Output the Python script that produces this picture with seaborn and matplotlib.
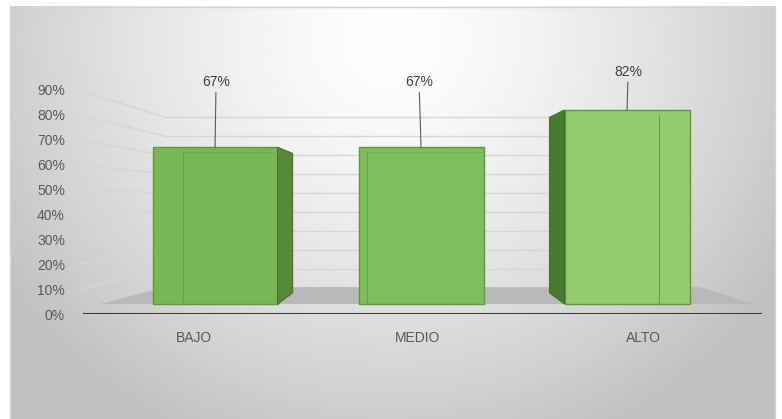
import numpy as np
import pandas as pd
import matplotlib
matplotlib.use("Agg")
import matplotlib.pyplot as plt
import matplotlib.transforms as mtransforms
from matplotlib.patches import Polygon, Rectangle
import seaborn as sns

# ---- data ----
categories = ["BAJO", "MEDIO", "ALTO"]
values = [0.67, 0.67, 0.82]
value_labels = ["67%", "67%", "82%"]
y_ticks = [0.0, 0.1, 0.2, 0.3, 0.4, 0.5, 0.6, 0.7, 0.8, 0.9]
y_tick_labels = ["0%", "10%", "20%", "30%", "40%", "50%", "60%", "70%", "80%", "90%"]

# ---- style ----
bar_colors = ["#79b756", "#80bd5c", "#91cc6d"]
side_colors = ["#568a36", "#568a36", "#497a2f"]
side_dir = [1, 0, -1]          # which depth face is visible
label_offsets = [65, 65, 38]   # px above bar top
label_dx = [1, -2, 1]
xtick_dx = [-21, -3, 16]       # perspective shift of category labels, px
floor = 0.04

sns.set_theme(style="white")
plt.rcParams["font.family"] = ["Liberation Sans", "DejaVu Sans"]

W, H = 782, 419
fig = plt.figure(figsize=(W / 100, H / 100), dpi=100)

# background gradient (Excel chart area)
bg = fig.add_axes([0, 0, 1, 1], zorder=-2)
xx, yy = np.meshgrid(np.arange(W), np.arange(H))
d = np.sqrt(((xx - 390) / 430) ** 2 + ((yy - 40) / 410) ** 2)
g = np.clip(1 - 0.22 * np.clip(d, 0, 1.3) ** 1.4, 0.76, 1)
g[(xx < 10) | (yy < 7) | (xx > 775)] = 1.0
bg.imshow(np.dstack([g, g, g]), extent=[0, W, H, 0], aspect="auto")
bg.add_patch(Rectangle((10, 7), 765, 420, fill=False, edgecolor="#d4d4d4", lw=1))
bg.set_xlim(0, W)
bg.set_ylim(H, 0)
bg.axis("off")

# main plot area
ax = fig.add_axes([83 / W, 105 / H, 679 / W, 224 / H])
ax.patch.set_alpha(0)

df = pd.DataFrame({"nivel": categories, "valor": values})
sns.barplot(data=df, x="nivel", y="valor", hue="nivel", palette=bar_colors,
            saturation=1, width=0.607, edgecolor="#5a9a37", linewidth=1,
            legend=False, ax=ax, zorder=3)
ax.set_xlim(-0.641, 2.655)
ax.set_ylim(0, 0.9)

# back wall gridlines with perspective
for t in y_ticks[1:]:
    back = 0.104 + 0.763 * t
    ax.plot([-0.66, -0.243], [t, back], color="#d6d6d6", lw=1, zorder=1, clip_on=False)
    ax.plot([-0.243, 2.354], [back, back], color="#d6d6d6", lw=1, zorder=1, clip_on=False)

# floor
ax.add_patch(Polygon([(-0.558, floor), (-0.243, 0.108), (2.354, 0.108), (2.621, floor)],
                     closed=True, facecolor="#b9b9b9", edgecolor="none", zorder=2))
ax.axhline(0, color="#3a3a3a", lw=2.2, zorder=5)

# 3D look on bars
for i, p in enumerate(ax.patches[:len(values)]):
    top = p.get_y() + p.get_height()
    p.set_y(floor)
    p.set_height(top - floor)
    x0 = p.get_x()
    w = p.get_width()
    x1 = x0 + w
    dx = 0.073
    if side_dir[i] == 1:
        pts = [(x1, top), (x1 + dx, top - 0.025), (x1 + dx, floor + 0.045), (x1, floor)]
        inner = x0 + 0.146
    elif side_dir[i] == -1:
        pts = [(x0, top), (x0 - dx, top - 0.03), (x0 - dx, floor + 0.045), (x0, floor)]
        inner = x1 - 0.15
    else:
        pts = None
        inner = x0 + 0.04
    if pts:
        ax.add_patch(Polygon(pts, closed=True, facecolor=side_colors[i],
                             edgecolor="#44722b", lw=0.8, zorder=3))
    ax.plot([inner, inner], [floor, top - 0.02], color="#68a346", lw=0.8, zorder=4)
    ax.plot([inner, x1 - (0.15 if side_dir[i] == -1 else 0.0)], [top - 0.02, top - 0.02],
            color="#68a346", lw=0.6, alpha=0.5, zorder=4)

    cx = x0 + w / 2
    ax.annotate(value_labels[i], xy=(cx, top), xytext=(label_dx[i] * 0.72, label_offsets[i] * 0.72),
                textcoords="offset points", ha="center", va="center", fontsize=10,
                color="#404040", annotation_clip=False,
                arrowprops=dict(arrowstyle="-", color="#595959", lw=0.8, shrinkA=0, shrinkB=0))

# axes cosmetics
sns.despine(ax=ax, left=True, bottom=True)
ax.set_yticks(y_ticks, y_tick_labels)
ax.set_xlabel("")
ax.set_ylabel("")
ax.tick_params(axis="y", length=0, pad=13, labelsize=10, labelcolor="#595959")
ax.tick_params(axis="x", length=0, pad=12, labelsize=10, labelcolor="#595959")
for lab, dxp in zip(ax.get_xticklabels(), xtick_dx):
    lab.set_transform(lab.get_transform() + mtransforms.ScaledTranslation(dxp / 100, 0, fig.dpi_scale_trans))

fig.savefig("out.png", dpi=100)
